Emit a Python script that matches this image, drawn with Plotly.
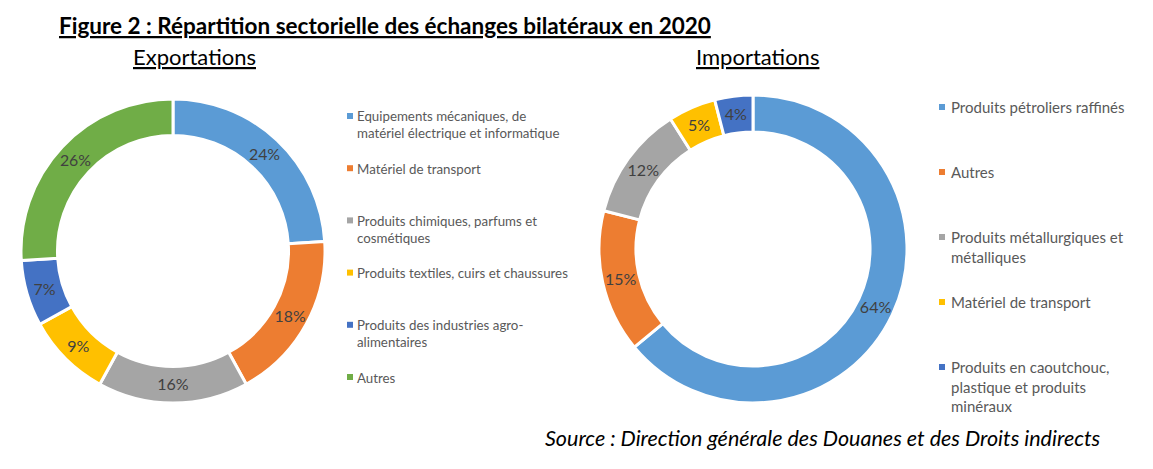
import plotly.graph_objects as go

W, H = 1153, 469
OFF = 8  # default page body margin
FW, FH = W - OFF, H - OFF
FONT = "Lato, Calibri, sans-serif"

export_labels = [
    "Equipements mécaniques, de<br>matériel électrique et informatique",
    "Matériel de transport",
    "Produits chimiques, parfums et<br>cosmétiques",
    "Produits textiles, cuirs et chaussures",
    "Produits des industries agro-<br>alimentaires",
    "Autres",
]
export_values = [24, 18, 16, 9, 7, 26]

import_labels = [
    "Produits pétroliers raffinés",
    "Autres",
    "Produits métallurgiques et<br>métalliques",
    "Matériel de transport",
    "Produits en caoutchouc,<br>plastique et produits<br>minéraux",
]
import_values = [64, 15, 12, 5, 4]

export_colors = ["#5B9BD5", "#ED7D31", "#A5A5A5", "#FFC000", "#4472C4", "#70AD47"]
import_colors = ["#5B9BD5", "#ED7D31", "#A5A5A5", "#FFC000", "#4472C4"]


def px(x):
    return (x - OFF) / FW


def py(y):
    return 1 - (y - OFF) / FH


fig = go.Figure()

fig.add_trace(go.Pie(
    labels=[l.replace("<br>", " ") for l in export_labels],
    values=export_values,
    hole=0.76,
    sort=False,
    direction="clockwise",
    rotation=0,
    marker=dict(colors=export_colors, line=dict(color="white", width=3)),
    texttemplate="%{percent:.0%}",
    textposition="inside",
    insidetextorientation="horizontal",
    textfont=dict(family=FONT, size=16, color="#404040"),
    domain=dict(x=[px(21), px(325)], y=[py(403), py(99)]),
    showlegend=False,
))

fig.add_trace(go.Pie(
    labels=[l.replace("<br>", " ") for l in import_labels],
    values=import_values,
    hole=0.76,
    sort=False,
    direction="clockwise",
    rotation=0,
    marker=dict(colors=import_colors, line=dict(color="white", width=3)),
    texttemplate="%{percent:.0%}",
    textposition="inside",
    insidetextorientation="horizontal",
    textfont=dict(family=FONT, size=16, color="#404040"),
    domain=dict(x=[px(599), px(907)], y=[py(403), py(95)]),
    showlegend=False,
))

annotations = []
shapes = []

annotations.append(dict(
    text="<b>Figure 2 : Répartition sectorielle des échanges bilatéraux en 2020</b>",
    x=px(57), y=py(25), xref="paper", yref="paper", xanchor="left", yanchor="middle",
    showarrow=False, font=dict(family=FONT, size=22.5, color="black", lineposition="under"),
))
annotations.append(dict(
    text="Exportations", x=px(194.5), y=py(56), xref="paper", yref="paper",
    xanchor="center", yanchor="middle", showarrow=False,
    font=dict(family=FONT, size=22, color="black", lineposition="under"),
))
annotations.append(dict(
    text="Importations", x=px(757.5), y=py(56), xref="paper", yref="paper",
    xanchor="center", yanchor="middle", showarrow=False,
    font=dict(family=FONT, size=22, color="black", lineposition="under"),
))
annotations.append(dict(
    text="<i>Source : Direction générale des Douanes et des Droits indirects</i>",
    x=px(1103), y=py(438), xref="paper", yref="paper",
    xanchor="right", yanchor="middle", showarrow=False,
    font=dict(family=FONT, size=21.5, color="black"),
))


def add_legend(labels, colors, mx, tx, y0, step, size, lh):
    for i, (lab, col) in enumerate(zip(labels, colors)):
        yc = y0 + i * step
        shapes.append(dict(
            type="rect", xref="paper", yref="paper",
            x0=px(mx - 3), x1=px(mx + 3), y0=py(yc + 3), y1=py(yc - 3),
            fillcolor=col, line=dict(width=0),
        ))
        annotations.append(dict(
            text=lab, x=px(tx), y=py(yc - lh / 2), xref="paper", yref="paper",
            xanchor="left", yanchor="top", align="left", showarrow=False,
            font=dict(family=FONT, size=size, color="#595959"), borderpad=0,
        ))


add_legend(export_labels, export_colors, 350, 356, 116, 52.2, 13.3, 17)
add_legend(import_labels, import_colors, 942, 950, 107, 65, 15, 19.5)

fig.update_layout(
    width=FW, height=FH,
    margin=dict(l=0, r=0, t=0, b=0),
    paper_bgcolor="white", plot_bgcolor="white",
    annotations=annotations, shapes=shapes,
)

fig.write_html("out.html")
